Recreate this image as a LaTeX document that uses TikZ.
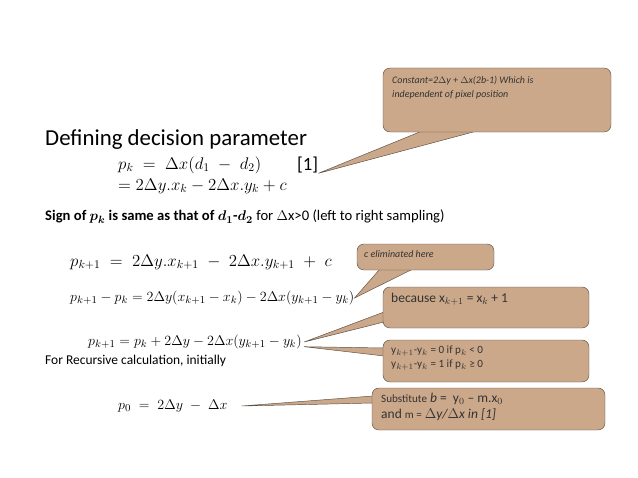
\documentclass[tikz,border=0pt]{standalone}
\usepackage{fontspec}
\setmainfont{Carlito}
\usetikzlibrary{positioning}
\definecolor{calloutfill}{HTML}{CBA88A}
\definecolor{calloutline}{HTML}{5A5048}
\definecolor{callouttext}{HTML}{333333}
\newcommand{\fsz}[1]{\fontsize{#1}{1.2\dimexpr#1pt\relax}\selectfont}
\tikzset{
  bubble/.style={draw=calloutline, fill=calloutfill, rounded corners=6pt, thin},
  pointer/.style={draw=calloutline, fill=calloutfill, thin},
  bubbletext/.style={anchor=north west, align=left, text=callouttext, inner sep=0pt},
  eqn/.style={anchor=west, inner sep=0pt}
}
\begin{document}
\begin{tikzpicture}[x=0.03cm, y=-0.03cm]
\useasboundingbox (0,0) rectangle (638,478);

% Title and equations
\node (title) at (45,140) [anchor=west, inner sep=0pt, font=\fsz{19.5}] {Defining decision parameter};
\node (eqA) at (118,165) [eqn, font=\fsz{14.5}] {$p_k \;=\; \Delta x(d_1 \;-\; d_2)\;$};
\node (ref) at (297,165) [anchor=west, inner sep=0pt, font=\fsz{16}] {[1]};
\node (eqB) at (118,186) [eqn, font=\fsz{14}] {$= 2\Delta y.x_k - 2\Delta x.y_k + c$};
\node (sign) at (45,217) [anchor=west, inner sep=0pt, font=\fsz{12.5}]
  {\textbf{Sign of \boldmath$p_k$ is same as that of \boldmath$d_1$-\boldmath$d_2$} for $\Delta$x>0 (left to right sampling)};
\node (eqC) at (70,262) [eqn, font=\fsz{14}] {$p_{k+1} \;=\; 2\Delta y.x_{k+1} \;-\; 2\Delta x.y_{k+1} \;+\; c$};
\node (eqD) at (70,298) [eqn, font=\fsz{12.5}] {$p_{k+1} - p_k = 2\Delta y(x_{k+1} - x_k) - 2\Delta x(y_{k+1} - y_k)$};
\node (eqE) at (88,342) [eqn, font=\fsz{12.5}] {$p_{k+1} = p_k + 2\Delta y - 2\Delta x(y_{k+1} - y_k)$};
\node (recur) at (45,361) [anchor=west, inner sep=0pt, font=\fsz{11.5}] {For Recursive calculation, initially};
\node (eqF) at (118,406) [eqn, font=\fsz{13}] {$p_0 \;=\; 2\Delta y \;-\; \Delta x$};

% Callout tips
\coordinate (tipA) at (ref.south east);
\coordinate (tipD) at (eqD.east);
\coordinate (tipE) at ([xshift=2pt]eqE.east);
\coordinate (tipE2) at ([xshift=2pt,yshift=-4pt]eqE.east);
\coordinate (tipF) at ([xshift=12pt]eqF.east);

% Constant callout
\draw [pointer] (tipA) -- (422,131) -- (477,131) -- cycle;
\draw [bubble] (383,68) rectangle (611,132);
\node (constant) at (392,76) [bubbletext, font=\fsz{8.5}\itshape]
  {Constant=2$\Delta$y + $\Delta$x(2b-1) Which is\\[2pt] independent of pixel position};

% c eliminated
\draw [pointer] (tipD) -- (380,269) -- (413,269) -- cycle;
\draw [bubble] (357,244) rectangle (494,270);
\node (celim) at (364,250) [bubbletext, font=\fsz{8.5}\itshape] {c eliminated here};

% because
\draw [pointer] (tipE) -- (384,312) -- (384,322) -- cycle;
\draw [bubble] (383,287) rectangle (589,328);
\node (because) at (391,293) [bubbletext, font=\fsz{11.5}] {because x$_{k+1}$ = x$_k$ + 1};

% y difference
\draw [pointer] (tipE2) -- (384,348) -- (384,356) -- cycle;
\draw [bubble] (383,340) rectangle (589,382);
\node (ydiff) at (391,346) [bubbletext, font=\fsz{9.5}]
  {y$_{k+1}$-y$_k$ = 0 if p$_k$ < 0\\ y$_{k+1}$-y$_k$ = 1 if p$_k$ ≥ 0};

% substitute
\draw [pointer] (tipF) -- (373,396) -- (373,403) -- cycle;
\draw [bubble] (372,388) rectangle (605,430);
\node (subst) at (381,393) [bubbletext, font=\fsz{11.5}]
  {{\fsz{9.5}Substitute} \textit{b} = \ y$_0$ -- m.x$_0$\\ and {\fsz{9.5}m =} \textit{$\Delta$y/$\Delta$x in [1]}};
\end{tikzpicture}
\end{document}
